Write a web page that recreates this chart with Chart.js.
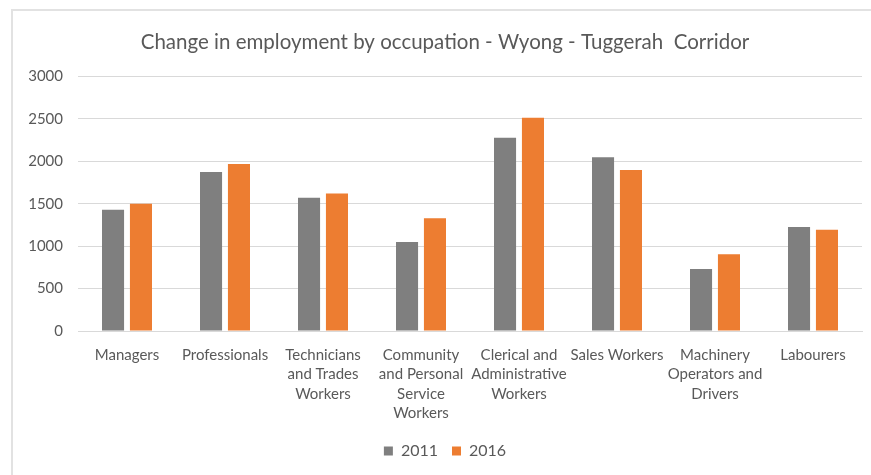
<!DOCTYPE html>
<html>
<head>
<meta charset="utf-8">
<script src="https://cdn.jsdelivr.net/npm/chart.js@4"></script>
<style>
  html, body { margin: 0; padding: 0; background: #fff; }
  #wrap { position: relative; width: 871px; height: 475px; }
  #frame { position: absolute; left: 11px; top: 9px; right: -2px; bottom: -2px;
           border-left: 2px solid #e2e2e2; border-top: 2px solid #e2e2e2; }
  canvas { position: absolute; left: 0; top: 0; }
</style>
</head>
<body>
<div id="wrap">
  <div id="frame"></div>
  <canvas id="chart" width="871" height="475"></canvas>
</div>
<script>
const occupations = [
  "Managers",
  "Professionals",
  ["Technicians", "and Trades", "Workers"],
  ["Community", "and Personal", "Service", "Workers"],
  ["Clerical and", "Administrative", "Workers"],
  "Sales Workers",
  ["Machinery", "Operators and", "Drivers"],
  "Labourers"
];
const employed2011 = [1430, 1875, 1570, 1050, 2280, 2050, 730, 1225];
const employed2016 = [1500, 1970, 1620, 1330, 2515, 1900, 905, 1195];
const yTicks = [0, 500, 1000, 1500, 2000, 2500, 3000];

const textColor = "#595959";
const fontFamily = "Lato, 'Open Sans', sans-serif";

new Chart(document.getElementById("chart").getContext("2d"), {
  type: "bar",
  data: {
    labels: occupations,
    datasets: [
      { label: "2011", data: employed2011, backgroundColor: "#7f7f7f",
        categoryPercentage: 0.57, barPercentage: 0.79 },
      { label: "2016", data: employed2016, backgroundColor: "#ed7d31",
        categoryPercentage: 0.57, barPercentage: 0.79 }
    ]
  },
  options: {
    responsive: false,
    animation: false,
    layout: { padding: { left: 28, right: 9, top: 18, bottom: 6 } },
    plugins: {
      title: {
        display: true,
        text: "Change in employment by occupation - Wyong - Tuggerah  Corridor",
        color: textColor,
        font: { family: fontFamily, size: 20.5, weight: "normal" },
        padding: { top: 12, bottom: 22 }
      },
      legend: {
        position: "bottom",
        labels: {
          color: textColor,
          font: { family: fontFamily, size: 16 },
          boxWidth: 9, boxHeight: 9, padding: 14
        }
      },
      tooltip: { enabled: false }
    },
    scales: {
      x: {
        grid: { display: false },
        border: { color: "#d9d9d9" },
        ticks: {
          color: textColor, maxRotation: 0, autoSkip: false, padding: 6,
          font: { family: fontFamily, size: 15, lineHeight: 1.3 }
        }
      },
      y: {
        min: 0, max: 3000,
        afterBuildTicks: axis => { axis.ticks = yTicks.map(v => ({ value: v })); },
        afterFit: axis => { axis.width = 50; },
        grid: { color: "#d9d9d9", drawTicks: false },
        border: { display: false },
        ticks: {
          color: textColor, padding: 15,
          font: { family: fontFamily, size: 15 },
          callback: v => String(v)
        }
      }
    }
  }
});
</script>
</body>
</html>
